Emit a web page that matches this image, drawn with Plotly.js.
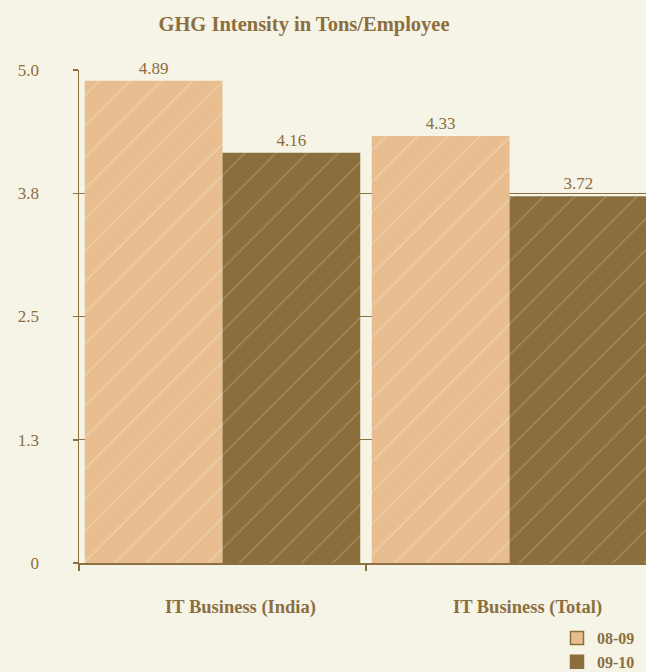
<!DOCTYPE html>
<html>
<head>
<meta charset="utf-8">
<script src="https://cdn.plot.ly/plotly-3.0.1.min.js"></script>
<style>
html,body{margin:0;padding:0;overflow:hidden;background:#f6f3e7;}
#chart{width:660px;height:672px;}
</style>
</head>
<body>
<div id="chart"></div>
<script>
var categories = ["IT Business (India)", "IT Business (Total)"];
var series0809 = [4.89, 4.33];
var series0910 = [4.16, 3.72];
var seriesNames = ["08-09", "09-10"];
var tickVals = [0, 1.25, 2.5, 3.75, 5];
var tickText = ["0", "1.3", "2.5", "3.8", "5.0"];

var ink = "#8b6f3e";
var lightBar = "#e8bd8f";
var darkBar = "#8a6f3c";
var bg = "#f6f3e7";
var serif = "Liberation Serif, Times New Roman, serif";

function barTrace(name, vals, color, streak) {
  return {
    type: "bar",
    name: name,
    x: categories,
    y: vals,
    showlegend: false,
    marker: {
      color: color,
      line: {width: 0},
      pattern: {shape: "/", fgcolor: streak, bgcolor: color, size: 22, solidity: 0.06, fillmode: "overlay"}
    },
    text: vals.map(function(v){return v.toFixed(2);}),
    textposition: "outside",
    cliponaxis: false,
    textfont: {family: serif, size: 17, color: ink},
    hoverinfo: "x+y"
  };
}
function legendTrace(name, color) {
  return {
    type: "scatter",
    mode: "markers",
    name: name,
    x: [null],
    y: [null],
    marker: {symbol: "square", size: 13, color: color, line: {color: ink, width: 1.5}},
    showlegend: true
  };
}

var data = [
  barTrace(seriesNames[0], series0809, lightBar, "#f8e4cc"),
  barTrace(seriesNames[1], series0910, darkBar, "#c2ab7c"),
  legendTrace(seriesNames[0], lightBar),
  legendTrace(seriesNames[1], darkBar)
];

var layout = {
  width: 660,
  height: 672,
  paper_bgcolor: bg,
  plot_bgcolor: bg,
  margin: {l: 79, r: 7, t: 70, b: 109, autoexpand: false},
  barmode: "group",
  bargap: 0.04,
  bargroupgap: 0,
  title: {
    text: "<b>GHG Intensity in Tons/Employee</b>",
    font: {family: serif, size: 20.5, color: ink},
    xref: "container", x: 304/660, xanchor: "center",
    yref: "container", y: 1 - 24/672, yanchor: "middle"
  },
  xaxis: {
    type: "category",
    tickson: "boundaries",
    ticks: "outside",
    ticklen: 6,
    tickcolor: ink,
    tickwidth: 1.5,
    showline: true,
    linecolor: ink,
    linewidth: 1.5,
    showgrid: false,
    automargin: false,
    tickfont: {family: serif, size: 18.5, color: ink},
    tickvals: categories,
    ticktext: categories.map(function(c){return "<b>" + c + "</b>";}),
    ticklabelstandoff: 26,
    ticklabelshift: 18,
    fixedrange: true
  },
  yaxis: {
    range: [0, 5],
    tickvals: tickVals,
    ticktext: tickText,
    ticks: "outside",
    ticklen: 5,
    tickcolor: ink,
    tickwidth: 1.5,
    showline: true,
    linecolor: ink,
    linewidth: 1.5,
    showgrid: true,
    gridcolor: ink,
    gridwidth: 1,
    zeroline: false,
    automargin: false,
    tickfont: {family: serif, size: 17, color: ink},
    ticklabelstandoff: 30,
    fixedrange: true
  },
  showlegend: true,
  legend: {
    xref: "container",
    yref: "container",
    x: 557 / 660,
    xanchor: "left",
    y: 1 - 621 / 672,
    yanchor: "top",
    bgcolor: "rgba(0,0,0,0)",
    font: {family: serif, size: 16, color: ink, weight: "bold"},
    tracegroupgap: 0,
    itemwidth: 30
  }
};

Plotly.newPlot("chart", data, layout, {displayModeBar: false, staticPlot: true});
</script>
</body>
</html>
